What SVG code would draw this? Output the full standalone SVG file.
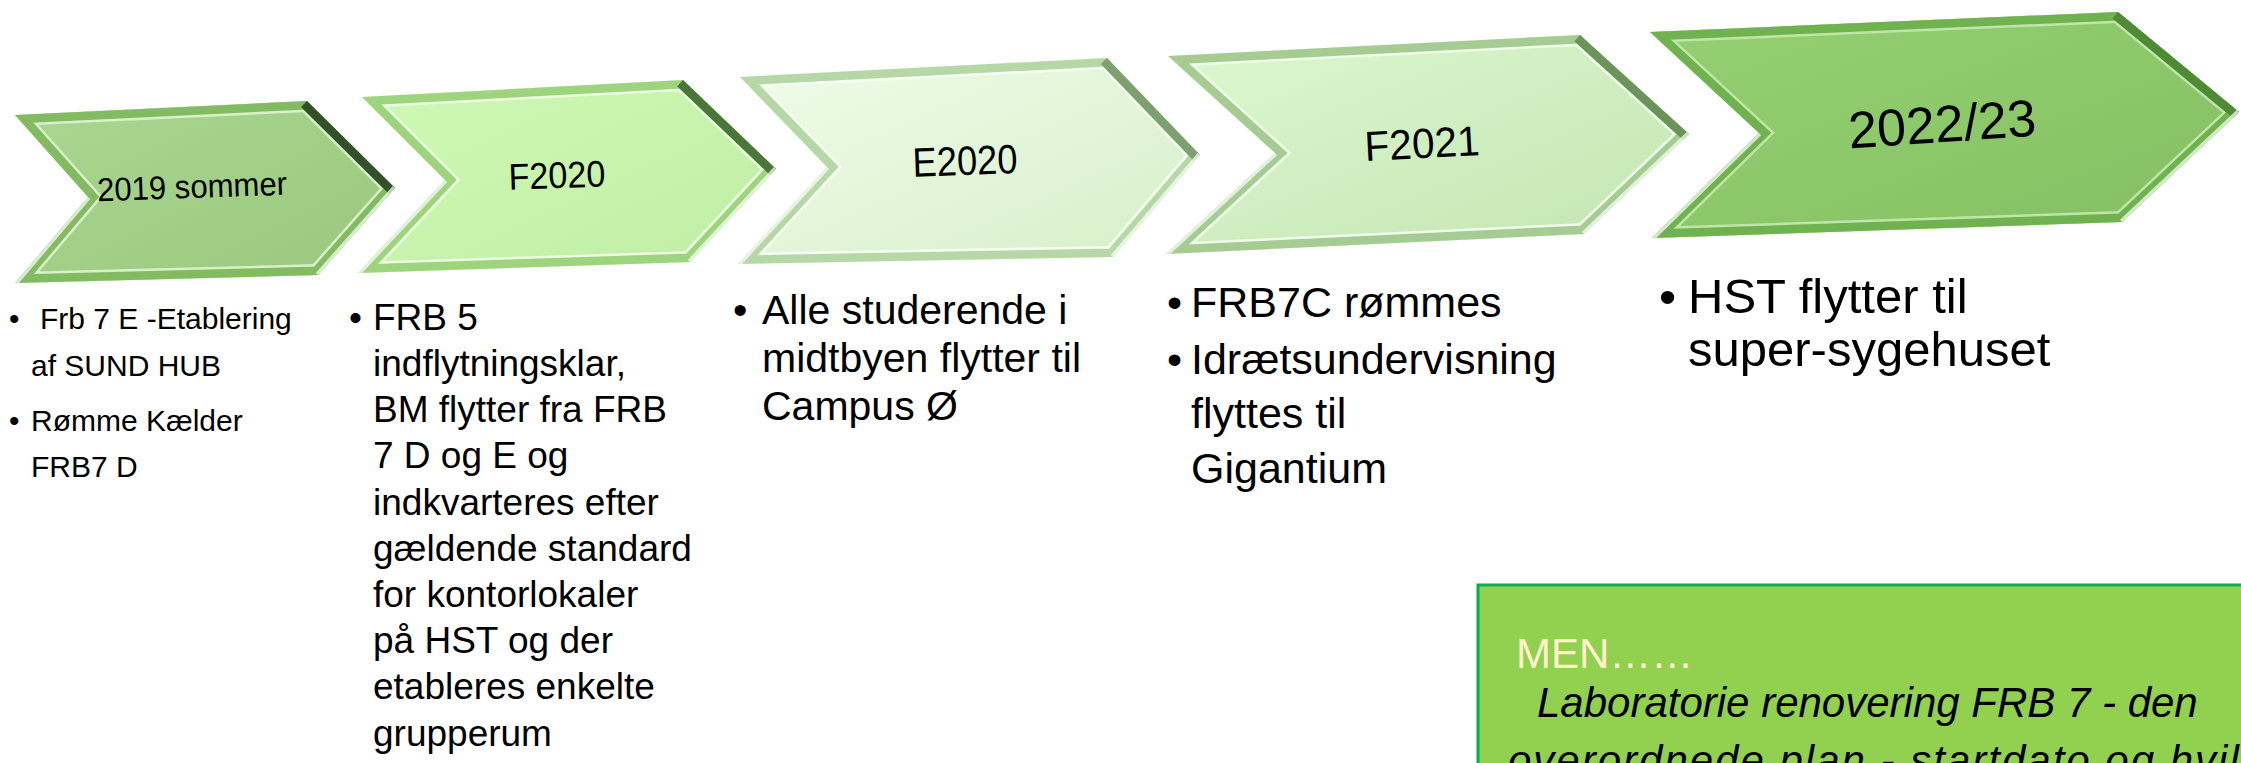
<svg xmlns="http://www.w3.org/2000/svg" xmlns:xlink="http://www.w3.org/1999/xlink" width="2241" height="763" viewBox="0 0 2241 763">
<defs>
<style>
text{font-family:"Liberation Sans",Arial,sans-serif;fill:#000}
.lbl{text-anchor:middle}
.c1{font-size:30px}
.c2{font-size:37px}
.c3{font-size:41px}
.c4{font-size:43px}
.c5{font-size:49px}
.men{font-size:42px;fill:#fff2cc}
.it{font-size:42px;font-style:italic}
.hl{fill:none;stroke-width:22}
.bev{fill:none;stroke-width:17;stroke-linejoin:miter}
.dk{fill:none;stroke-width:17;stroke-linecap:butt}
.sh{fill:none;stroke:#ffffff;stroke-opacity:.7;stroke-width:6}
</style>
<polygon id="p1" points="15,115 307,101 395,188 318,275 15,283 88,197"/>
<polygon id="p2" points="362,97 683,80 776,169 690,262 358,273 445,180"/>
<polygon id="p3" points="740,77 1107,58 1200,155 1113,257 738,264 827,167"/>
<polygon id="p4" points="1168,56 1580,35 1689,134 1584,234 1166,254 1275,153"/>
<polygon id="p5" points="1650,32 2118,12 2239,112 2122,222 1652,238 1759,133"/>
<clipPath id="k1"><use xlink:href="#p1"/></clipPath>
<clipPath id="k2"><use xlink:href="#p2"/></clipPath>
<clipPath id="k3"><use xlink:href="#p3"/></clipPath>
<clipPath id="k4"><use xlink:href="#p4"/></clipPath>
<clipPath id="k5"><use xlink:href="#p5"/></clipPath>
<linearGradient id="f1" x1="0" y1="0" x2="1" y2="1"><stop offset="0" stop-color="#abd792"/><stop offset="1" stop-color="#98c87c"/></linearGradient>
<linearGradient id="f2" x1="0" y1="0" x2="1" y2="1"><stop offset="0" stop-color="#cff9b6"/><stop offset="1" stop-color="#c0eea4"/></linearGradient>
<linearGradient id="f3" x1="0" y1="0" x2="1" y2="1"><stop offset="0" stop-color="#f0fcea"/><stop offset="1" stop-color="#d6efc8"/></linearGradient>
<linearGradient id="f4" x1="0" y1="0" x2="1" y2="1"><stop offset="0" stop-color="#def8d1"/><stop offset="1" stop-color="#c2e5b1"/></linearGradient>
<linearGradient id="f5" x1="0" y1="0" x2="1" y2="1"><stop offset="0" stop-color="#95d072"/><stop offset="1" stop-color="#84bf63"/></linearGradient>
</defs>

<g id="connectors"></g>

<g id="node-2019">
<use xlink:href="#p1" fill="url(#f1)"/>
<g clip-path="url(#k1)">
<use xlink:href="#p1" class="hl" stroke="#d9f0ca"/>
<use xlink:href="#p1" class="bev" stroke="#83bb63"/>
<polyline class="dk" points="307,101 395,188" stroke="#34502a"/>
<polyline class="sh" points="395,188 318,275"/>
<polyline class="sh" points="88,197 15,283"/>
</g>
<text class="lbl" x="192" y="198" style="font-size:33px" textLength="190" lengthAdjust="spacingAndGlyphs" transform="rotate(-2 192 188)">2019 sommer</text>
</g>

<g id="node-F2020">
<use xlink:href="#p2" fill="url(#f2)"/>
<g clip-path="url(#k2)">
<use xlink:href="#p2" class="hl" stroke="#ecfce2"/>
<use xlink:href="#p2" class="bev" stroke="#9fd47f"/>
<polyline class="dk" points="683,80 776,169" stroke="#4a7638"/>
<polyline class="sh" points="776,169 690,262"/>
<polyline class="sh" points="445,180 358,273"/>
</g>
<text class="lbl" x="557" y="188" style="font-size:37px" textLength="97" lengthAdjust="spacingAndGlyphs" transform="rotate(-2 557 176)">F2020</text>
</g>

<g id="node-E2020">
<use xlink:href="#p3" fill="url(#f3)"/>
<g clip-path="url(#k3)">
<use xlink:href="#p3" class="hl" stroke="#f7fef3"/>
<use xlink:href="#p3" class="bev" stroke="#b6d8a6"/>
<polyline class="dk" points="1107,58 1200,155" stroke="#7ea070"/>
<polyline class="sh" points="1200,155 1113,257"/>
<polyline class="sh" points="827,167 738,264"/>
</g>
<text class="lbl" x="965" y="175" style="font-size:41px" textLength="105" lengthAdjust="spacingAndGlyphs" transform="rotate(-2 965 160)">E2020</text>
</g>

<g id="node-F2021">
<use xlink:href="#p4" fill="url(#f4)"/>
<g clip-path="url(#k4)">
<use xlink:href="#p4" class="hl" stroke="#effcea"/>
<use xlink:href="#p4" class="bev" stroke="#a6cc94"/>
<polyline class="dk" points="1580,35 1689,134" stroke="#6a9459"/>
<polyline class="sh" points="1689,134 1584,234"/>
<polyline class="sh" points="1275,153 1166,254"/>
</g>
<text class="lbl" x="1422" y="158" style="font-size:42px" textLength="115" lengthAdjust="spacingAndGlyphs" transform="rotate(-3 1422 143)">F2021</text>
</g>

<g id="node-2022">
<use xlink:href="#p5" fill="url(#f5)"/>
<g clip-path="url(#k5)">
<use xlink:href="#p5" class="hl" stroke="#bfe6a8"/>
<use xlink:href="#p5" class="bev" stroke="#6fb24f"/>
<polyline class="dk" points="2118,12 2239,112" stroke="#4f8a36"/>
<polyline class="sh" points="2239,112 2122,222"/>
<polyline class="sh" points="1759,133 1652,238"/>
</g>
<text class="lbl" x="1942" y="142" style="font-size:52px" textLength="188" lengthAdjust="spacingAndGlyphs" transform="rotate(-4 1942 124)">2022/23</text>
</g>

<g id="list-2019">
<text class="c1" x="9" y="329">•</text>
<text class="c1" x="40" y="329">Frb 7 E -Etablering</text>
<text class="c1" x="31" y="376">af SUND HUB</text>
<text class="c1" x="9" y="431">•</text>
<text class="c1" x="31" y="431">Rømme Kælder</text>
<text class="c1" x="31" y="477">FRB7 D</text>
</g>

<g id="list-F2020">
<text class="c2" x="349" y="330">•</text>
<text class="c2" x="373" y="330">FRB 5</text>
<text class="c2" x="373" y="376">indflytningsklar,</text>
<text class="c2" x="373" y="422">BM flytter fra FRB</text>
<text class="c2" x="373" y="468">7 D og E og</text>
<text class="c2" x="373" y="515">indkvarteres efter</text>
<text class="c2" x="373" y="561">gældende standard</text>
<text class="c2" x="373" y="607">for kontorlokaler</text>
<text class="c2" x="373" y="653">på HST og der</text>
<text class="c2" x="373" y="699">etableres enkelte</text>
<text class="c2" x="373" y="746">grupperum</text>
</g>

<g id="list-E2020">
<text class="c3" x="733" y="324">•</text>
<text class="c3" x="762" y="324">Alle studerende i</text>
<text class="c3" x="762" y="372">midtbyen flytter til</text>
<text class="c3" x="762" y="420">Campus Ø</text>
</g>

<g id="list-F2021">
<text class="c4" x="1167" y="317">•</text>
<text class="c4" x="1191" y="317">FRB7C rømmes</text>
<text class="c4" x="1167" y="374">•</text>
<text class="c4" x="1191" y="374">Idrætsundervisning</text>
<text class="c4" x="1191" y="428">flyttes til</text>
<text class="c4" x="1191" y="483">Gigantium</text>
</g>

<g id="list-2022">
<text class="c5" x="1659" y="313">•</text>
<text class="c5" x="1688" y="313">HST flytter til</text>
<text class="c5" x="1688" y="366">super-sygehuset</text>
</g>

<g id="note-men">
<rect x="1478" y="585" width="800" height="220" fill="#92d050" stroke="#00b050" stroke-width="3"/>
<text class="men" x="1516" y="668">MEN……</text>
<text class="it" x="1537" y="717">Laboratorie renovering FRB 7 - den</text>
<text class="it" x="1508" y="775" style="letter-spacing:2px">overordnede plan - startdato og hvil</text>
</g>
</svg>
